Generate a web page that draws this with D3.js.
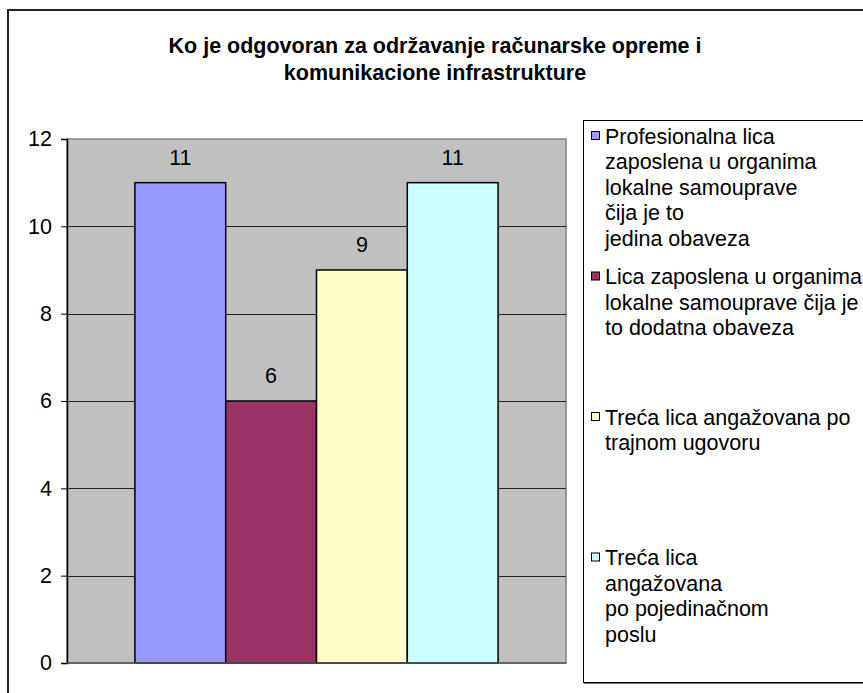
<!DOCTYPE html>
<html><head><meta charset="utf-8">
<script src="https://cdn.jsdelivr.net/npm/d3@7"></script>
<style>body{margin:0;background:#fff;} svg{display:block;font-family:"Liberation Sans",Arial,sans-serif;}</style>
</head><body>
<svg id="c" width="863" height="693"></svg>
<script>
const titleLines = ["Ko je odgovoran za održavanje računarske opreme i", "komunikacione infrastrukture"];
const seriesNames = [
  "Profesionalna lica zaposlena u organima lokalne samouprave čija je to jedina obaveza",
  "Lica zaposlena u organima lokalne samouprave čija je to dodatna obaveza",
  "Treća lica angažovana po trajnom ugovoru",
  "Treća lica angažovana po pojedinačnom poslu"
];
const legendLines = [
  ["Profesionalna lica", "zaposlena u organima", "lokalne samouprave", "čija je to", "jedina obaveza"],
  ["Lica zaposlena u organima", "lokalne samouprave čija je", "to dodatna obaveza"],
  ["Treća lica angažovana po", "trajnom ugovoru"],
  ["Treća lica", "angažovana", "po pojedinačnom", "poslu"]
];
const values = [11, 6, 9, 11];
const colors = ["#9999FF", "#993366", "#FFFFCC", "#CCFFFF"];
const yTicks = [0, 2, 4, 6, 8, 10, 12];
const category = ["kategorija"];

const FS = 21.5;
const svg = d3.select("#c");
const plot = {x0: 67, x1: 566, y0: 139, y1: 663};

// chart area border
svg.append("rect").attr("x", 8).attr("y", 10).attr("width", 880).attr("height", 720)
  .attr("fill", "#fff").attr("stroke", "#222").attr("stroke-width", 2);

// title
svg.append("g").selectAll("text").data(titleLines).join("text")
  .attr("x", 435).attr("y", (d, i) => 53 + i * 27)
  .attr("text-anchor", "middle").attr("font-weight", "bold").attr("font-size", FS)
  .attr("fill", "#000").text(d => d);

const y = d3.scaleLinear().domain([0, 12]).range([plot.y1, plot.y0]);
const x0 = d3.scaleBand().domain(category).range([plot.x0, plot.x1]).paddingInner(0).paddingOuter(0.187);
const x1 = d3.scaleBand().domain(seriesNames).range([0, x0.bandwidth()]).padding(0);

// plot background
svg.append("rect").attr("x", plot.x0).attr("y", plot.y0)
  .attr("width", plot.x1 - plot.x0).attr("height", plot.y1 - plot.y0)
  .attr("fill", "#C0C0C0").attr("stroke", "#808080").attr("stroke-width", 1.5);

// gridlines
svg.append("g").selectAll("line").data(yTicks.filter(t => t > 0 && t < 12)).join("line")
  .attr("x1", plot.x0).attr("x2", plot.x1)
  .attr("y1", d => Math.round(y(d)) + 0.5).attr("y2", d => Math.round(y(d)) + 0.5)
  .attr("stroke", "#222").attr("stroke-width", 1);

// bars
const g = svg.append("g").attr("transform", `translate(${x0(category[0])},0)`);
g.selectAll("rect").data(values).join("rect")
  .attr("x", (d, i) => x1(seriesNames[i]))
  .attr("y", d => y(d))
  .attr("width", x1.bandwidth())
  .attr("height", d => y(0) - y(d))
  .attr("fill", (d, i) => colors[i])
  .attr("stroke", "#000").attr("stroke-width", 1.5);

g.selectAll("text").data(values).join("text")
  .attr("x", (d, i) => x1(seriesNames[i]) + x1.bandwidth() / 2)
  .attr("y", d => y(d) - 18)
  .attr("text-anchor", "middle").attr("font-size", FS).attr("fill", "#000")
  .text(d => d);

// y axis
const yAxis = d3.axisLeft(y).tickValues(yTicks).tickSize(6).tickPadding(9);
const ax = svg.append("g").attr("transform", `translate(${plot.x0},0)`).call(yAxis);
ax.select(".domain").attr("stroke", "#000").attr("stroke-width", 1.5);
ax.selectAll(".tick line").attr("stroke", "#000");
ax.selectAll(".tick text").attr("font-size", FS).attr("fill", "#000")
  .attr("font-family", "Liberation Sans, Arial, sans-serif");

// x axis line
svg.append("line").attr("x1", plot.x0).attr("x2", plot.x1)
  .attr("y1", plot.y1).attr("y2", plot.y1).attr("stroke", "#555").attr("stroke-width", 1.5);

// legend
const leg = {x: 583, y: 120, w: 300, h: 562};
svg.append("rect").attr("x", leg.x + 0.5).attr("y", leg.y + 0.5).attr("width", leg.w).attr("height", leg.h)
  .attr("fill", "#fff").attr("stroke", "#000").attr("stroke-width", 1);
svg.append("line").attr("x1", leg.x + 1).attr("x2", leg.x + leg.w).attr("y1", leg.y + leg.h + 1.5).attr("y2", leg.y + leg.h + 1.5)
  .attr("stroke", "#777").attr("stroke-width", 1);
const slot = leg.h / legendLines.length;
const lg = svg.append("g").selectAll("g").data(legendLines).join("g")
  .attr("transform", (d, i) => `translate(${leg.x},${leg.y + i * slot + 16})`);
lg.append("rect").attr("x", 8.5).attr("y", -4.5).attr("width", 8).attr("height", 8)
  .attr("fill", (d, i) => colors[i]).attr("stroke", "#000").attr("stroke-width", 1);
lg.selectAll("text").data(d => d).join("text")
  .attr("x", 22).attr("y", (d, i) => i * 25.5 + 7.5)
  .attr("font-size", FS).attr("fill", "#000").text(d => d);
</script>
</body></html>
